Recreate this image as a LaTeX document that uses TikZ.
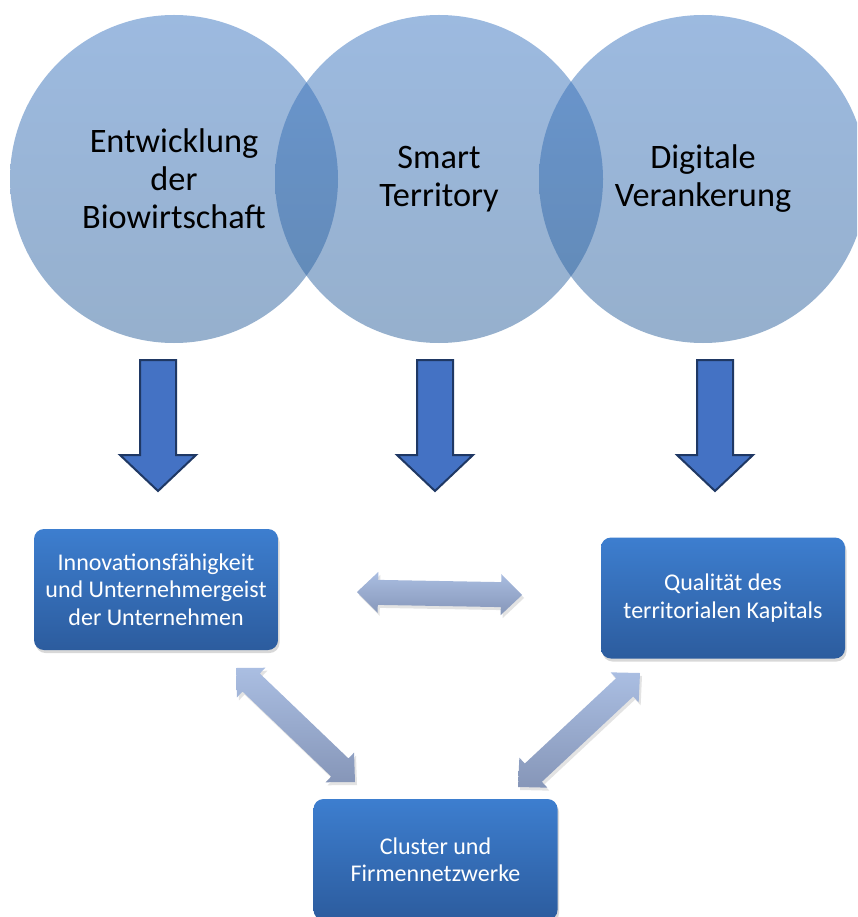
\documentclass[tikz,border=0pt]{standalone}
\usepackage{fontspec}
\setmainfont{Carlito}
\usetikzlibrary{calc,shadows}
\definecolor{circtop}{RGB}{59,118,194}
\definecolor{circbot}{RGB}{46,98,156}
\definecolor{arrfill}{RGB}{68,114,196}
\definecolor{arrline}{RGB}{31,56,100}
\definecolor{boxtop}{RGB}{61,126,207}
\definecolor{boxbot}{RGB}{44,92,158}
\definecolor{dtop}{RGB}{170,190,226}
\definecolor{dbot}{RGB}{134,150,184}
\tikzset{
  bubble/.style={circle, minimum size=328pt, inner sep=0pt, top color=circtop, bottom color=circbot,
    fill opacity=0.5, text opacity=1, draw=none, font=\fontsize{34.3}{38}\selectfont, align=center, text=black},
  downarrow/.style={fill=arrfill, draw=arrline, line width=2pt, line join=miter},
  blockbox/.style={rectangle, rounded corners=10pt, minimum width=244pt, minimum height=121pt,
    top color=boxtop, bottom color=boxbot, text=white, align=center, font=\fontsize{24}{27.5}\selectfont,
    drop shadow={shadow xshift=1.5pt, shadow yshift=-3pt, opacity=0.3}},
  linkarrow/.style={top color=dtop, bottom color=dbot, draw=none,
    drop shadow={shadow xshift=2pt, shadow yshift=-3pt, opacity=0.22}},
}
\newcommand\mydownarrow[1]{%
  \draw[downarrow] (#1-18,360) -- (#1+18,360) -- (#1+18,455) -- (#1+38,455) -- (#1,491)
    -- (#1-38,455) -- (#1-18,455) -- cycle;}
\newcommand\myblockarrow[2]{%
  \shade[linkarrow] (#1) -- ($(#1)!21pt!(#2)!20.5pt!90:(#2)$) -- ($(#1)!21pt!(#2)!12.5pt!90:(#2)$)
   -- ($(#2)!21pt!(#1)!12.5pt!-90:(#1)$) -- ($(#2)!21pt!(#1)!20.5pt!-90:(#1)$) -- (#2)
   -- ($(#2)!21pt!(#1)!20.5pt!90:(#1)$) -- ($(#2)!21pt!(#1)!12.5pt!90:(#1)$)
   -- ($(#1)!21pt!(#2)!12.5pt!-90:(#2)$) -- ($(#1)!21pt!(#2)!20.5pt!-90:(#2)$) -- cycle;}
\begin{document}
\begin{tikzpicture}[x=1pt,y=-1pt]
\useasboundingbox (0,0) rectangle (857,917);
\clip (0,0) rectangle (857,917);
\fill[white] (0,0) rectangle (857,917);
% circles
\node[bubble] (c1) at (174,179) {Entwicklung\\der\\Biowirtschaft};
\node[bubble] (c2) at (439,179) {Smart\\Territory};
\node[bubble] (c3) at (703,179) {Digitale\\Verankerung};
% down arrows
\mydownarrow{158}
\mydownarrow{435}
\mydownarrow{715}
% link arrows
\coordinate (h1) at (357,592);
\coordinate (h2) at (522,595);
\coordinate (d1) at (236,668);
\coordinate (d2) at (355,782);
\coordinate (e1) at (640,673);
\coordinate (e2) at (518,787);
\myblockarrow{h1}{h2}
\myblockarrow{d1}{d2}
\myblockarrow{e1}{e2}
% boxes
\node[blockbox] (b1) at (156,589.5) {Innovationsfähigkeit\\und Unternehmergeist\\der Unternehmen};
\node[blockbox] (b2) at (723,598) {Qualität des\\territorialen Kapitals};
\node[blockbox] (b3) at (435.5,859.5) {Cluster und\\Firmennetzwerke};
\end{tikzpicture}
\end{document}
